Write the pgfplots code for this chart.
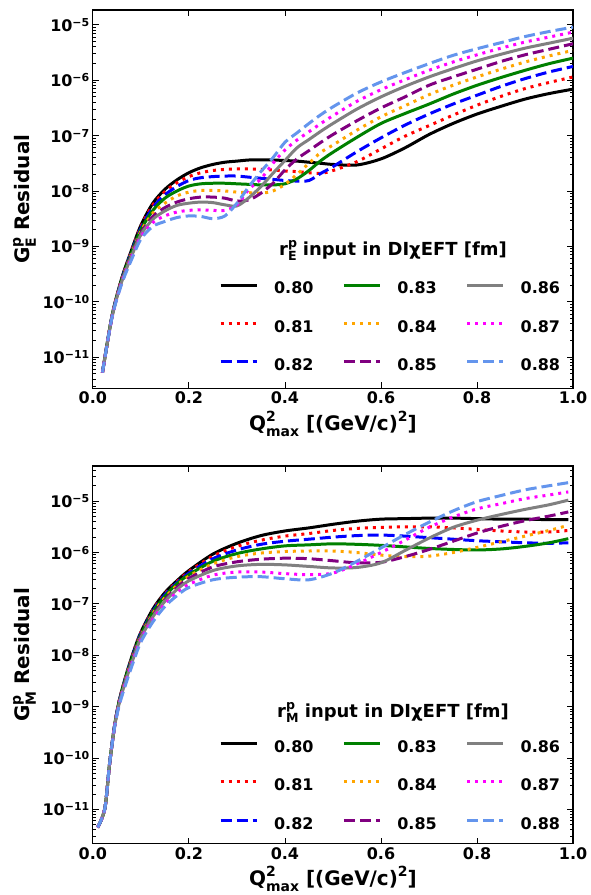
\documentclass[border=0pt]{standalone}
\usepackage{fontspec}
\setmainfont{DejaVu Sans}
\usepackage{pgfplots}
\pgfplotsset{compat=1.18}
\usepackage{pgfplotstable}

\definecolor{cgreen}{HTML}{008000}
\definecolor{corange}{HTML}{FFA500}
\definecolor{cpurple}{HTML}{800080}
\definecolor{cgray}{HTML}{808080}
\definecolor{cmagenta}{HTML}{FF00FF}
\definecolor{clblue}{HTML}{6495ED}

% #1 script size (pt), #2 superscript, #3 subscript, stacked
\newcommand{\supsub}[3]{\makebox[0pt][l]{\raisebox{0.45em}{\fontsize{#1}{#1}\selectfont #2}}\raisebox{-0.3em}{\fontsize{#1}{#1}\selectfont #3}}
\newcommand{\sps}[2]{\raisebox{0.45em}{\fontsize{#1}{#1}\selectfont #2}}
\newcommand{\tenexp}[1]{10\raisebox{5pt}{\fontsize{11}{11}\selectfont −#1}}

% log10 of the residuals
\pgfplotstableread{
x     bk     rd     bl     gr     or     pu     gy     mg     lb
0.02  -11.28 -11.28 -11.28 -11.28 -11.28 -11.28 -11.28 -11.28 -11.28
0.04  -10.25 -10.25 -10.26 -10.26 -10.26 -10.27 -10.27 -10.28 -10.28
0.06  -9.58  -9.59  -9.60  -9.61  -9.62  -9.63  -9.64  -9.66  -9.68
0.08  -9.08  -9.09  -9.11  -9.13  -9.15  -9.17  -9.19  -9.22  -9.25
0.10  -8.62  -8.64  -8.67  -8.70  -8.73  -8.76  -8.79  -8.83  -8.87
0.125 -8.22  -8.25  -8.30  -8.35  -8.40  -8.46  -8.51  -8.57  -8.64
0.15  -7.97  -8.01  -8.07  -8.13  -8.22  -8.30  -8.36  -8.45  -8.55
0.175 -7.80  -7.85  -7.92  -8.00  -8.09  -8.20  -8.26  -8.38  -8.48
0.20  -7.67  -7.74  -7.81  -7.91  -8.02  -8.14  -8.22  -8.35  -8.45
0.225 -7.58  -7.67  -7.76  -7.87  -7.99  -8.11  -8.20  -8.34  -8.46
0.25  -7.52  -7.63  -7.74  -7.86  -7.99  -8.11  -8.21  -8.35  -8.50
0.275 -7.48  -7.61  -7.73  -7.86  -8.00  -8.13  -8.25  -8.35  -8.45
0.30  -7.46  -7.60  -7.73  -7.87  -8.02  -8.18  -8.27  -8.25  -8.22
0.325 -7.44  -7.60  -7.75  -7.88  -8.03  -8.16  -8.12  -7.97  -7.92
0.35  -7.44  -7.61  -7.77  -7.89  -8.04  -8.04  -7.92  -7.78  -7.65
0.375 -7.44  -7.62  -7.79  -7.89  -8.00  -7.86  -7.68  -7.50  -7.40
0.40  -7.45  -7.64  -7.81  -7.87  -7.88  -7.62  -7.45  -7.26  -7.12
0.425 -7.46  -7.65  -7.82  -7.78  -7.70  -7.42  -7.22  -7.08  -6.95
0.45  -7.48  -7.67  -7.81  -7.63  -7.50  -7.27  -7.07  -6.93  -6.78
0.475 -7.50  -7.68  -7.68  -7.45  -7.30  -7.12  -6.92  -6.78  -6.62
0.50  -7.52  -7.63  -7.56  -7.30  -7.17  -6.98  -6.78  -6.64  -6.48
0.55  -7.53  -7.47  -7.29  -7.03  -6.90  -6.73  -6.52  -6.38  -6.23
0.60  -7.42  -7.24  -7.04  -6.78  -6.66  -6.50  -6.30  -6.17  -6.03
0.65  -7.22  -7.01  -6.81  -6.60  -6.46  -6.30  -6.11  -5.99  -5.86
0.70  -6.98  -6.82  -6.61  -6.43  -6.26  -6.09  -5.94  -5.82  -5.70
0.75  -6.78  -6.63  -6.43  -6.25  -6.09  -5.94  -5.79  -5.67  -5.55
0.80  -6.61  -6.45  -6.27  -6.09  -5.94  -5.80  -5.65  -5.54  -5.43
0.85  -6.47  -6.29  -6.11  -5.95  -5.80  -5.66  -5.53  -5.42  -5.32
0.90  -6.34  -6.15  -5.97  -5.82  -5.67  -5.54  -5.42  -5.31  -5.21
0.95  -6.24  -6.04  -5.85  -5.70  -5.56  -5.44  -5.33  -5.22  -5.12
1.00  -6.16  -5.94  -5.75  -5.60  -5.46  -5.34  -5.24  -5.13  -5.04
}\GE

\pgfplotstableread{
x     bk     rd     bl     gr     or     pu     gy     mg     lb
0.01  -11.35 -11.35 -11.35 -11.35 -11.35 -11.35 -11.35 -11.35 -11.35
0.025 -10.98 -10.98 -10.98 -10.98 -10.98 -10.98 -10.98 -10.98 -10.98
0.035 -10.10 -10.10 -10.10 -10.10 -10.10 -10.10 -10.10 -10.10 -10.10
0.045 -9.38  -9.38  -9.38  -9.39  -9.39  -9.40  -9.40  -9.41  -9.42
0.055 -8.88  -8.88  -8.89  -8.90  -8.91  -8.92  -8.93  -8.95  -8.97
0.07  -8.36  -8.37  -8.38  -8.39  -8.41  -8.43  -8.45  -8.48  -8.52
0.085 -7.92  -7.93  -7.95  -7.97  -7.99  -8.01  -8.04  -8.07  -8.11
0.10  -7.55  -7.56  -7.58  -7.60  -7.62  -7.64  -7.66  -7.70  -7.74
0.125 -7.10  -7.12  -7.14  -7.16  -7.19  -7.22  -7.25  -7.30  -7.35
0.15  -6.78  -6.80  -6.82  -6.85  -6.88  -6.92  -6.95  -7.00  -7.05
0.175 -6.55  -6.57  -6.59  -6.61  -6.64  -6.68  -6.72  -6.78  -6.84
0.20  -6.35  -6.37  -6.40  -6.43  -6.46  -6.50  -6.55  -6.62  -6.68
0.25  -6.03  -6.07  -6.12  -6.17  -6.22  -6.28  -6.35  -6.44  -6.53
0.30  -5.82  -5.88  -5.95  -6.02  -6.08  -6.18  -6.26  -6.38  -6.48
0.35  -5.67  -5.76  -5.84  -5.93  -6.01  -6.13  -6.23  -6.38  -6.47
0.40  -5.58  -5.68  -5.78  -5.87  -5.98  -6.11  -6.24  -6.41  -6.51
0.45  -5.52  -5.63  -5.74  -5.85  -5.97  -6.12  -6.27  -6.43  -6.53
0.50  -5.45  -5.57  -5.70  -5.83  -5.97  -6.16  -6.30  -6.40  -6.40
0.55  -5.39  -5.53  -5.67  -5.84  -6.00  -6.20  -6.29  -6.22  -6.17
0.60  -5.35  -5.51  -5.66  -5.86  -6.05  -6.19  -6.20  -6.00  -5.91
0.65  -5.34  -5.50  -5.68  -5.89  -6.08  -6.08  -5.96  -5.76  -5.65
0.70  -5.33  -5.50  -5.71  -5.92  -6.07  -5.94  -5.72  -5.51  -5.41
0.75  -5.33  -5.52  -5.74  -5.94  -6.00  -5.78  -5.51  -5.31  -5.19
0.80  -5.34  -5.55  -5.77  -5.95  -5.90  -5.62  -5.37  -5.15  -5.01
0.85  -5.35  -5.58  -5.79  -5.93  -5.79  -5.49  -5.26  -5.05  -4.89
0.90  -5.35  -5.60  -5.81  -5.88  -5.68  -5.38  -5.16  -4.95  -4.78
0.95  -5.36  -5.60  -5.82  -5.81  -5.57  -5.29  -5.07  -4.88  -4.70
0.99  -5.36  -5.57  -5.81  -5.73  -5.47  -5.21  -4.98  -4.82  -4.64
}\GM

\tikzset{
  dotsty/.style={dash pattern=on 3pt off 5pt},
  dashsty/.style={dash pattern=on 11pt off 5pt},
}
\pgfplotsset{
  every axis/.append style={
    scale only axis, width=481pt,
    xmin=0, xmax=1,
    xtick={0,0.2,0.4,0.6,0.8,1}, xticklabels={0.0,0.2,0.4,0.6,0.8,1.0},
    ytick={1e-11,1e-10,1e-9,1e-8,1e-7,1e-6,1e-5},
    yticklabels={\tenexp{11},\tenexp{10},\tenexp{9},\tenexp{8},\tenexp{7},\tenexp{6},\tenexp{5}},
    tick label style={font=\bfseries\fontsize{16}{18}\selectfont},
    label style={font=\bfseries\fontsize{20}{24}\selectfont},
    major tick length=6pt, minor tick length=3pt,
    tick style={line width=0.9pt, black},
    axis line style={line width=1.2pt},
    legend columns=3, transpose legend,
    legend cell align=left,
    legend style={draw=none, fill=none, anchor=center,
      font=\bfseries\fontsize{16}{18}\selectfont,
      row sep=21pt,
      /tikz/every odd column/.append style={column sep=14pt},
      /tikz/every even column/.append style={column sep=27pt}},
  },
  every axis plot/.append style={line width=3pt, smooth},
  legend image code/.code={\draw[#1] (0pt,0.37em) -- (36pt,0.37em);},
}

\begin{document}
\begin{tikzpicture}
\path (0pt,0pt) rectangle (591pt,-895pt);
\begin{semilogyaxis}[at={(93pt,-10pt)}, anchor=north west, height=379pt,
  ymin=2.72e-12, ymax=1.86e-5,
  minor ytick={3e-12,4e-12,5e-12,6e-12,7e-12,8e-12,9e-12,
    2e-11,3e-11,4e-11,5e-11,6e-11,7e-11,8e-11,9e-11,
    2e-10,3e-10,4e-10,5e-10,6e-10,7e-10,8e-10,9e-10,
    2e-9,3e-9,4e-9,5e-9,6e-9,7e-9,8e-9,9e-9,
    2e-8,3e-8,4e-8,5e-8,6e-8,7e-8,8e-8,9e-8,
    2e-7,3e-7,4e-7,5e-7,6e-7,7e-7,8e-7,9e-7,
    2e-6,3e-6,4e-6,5e-6,6e-6,7e-6,8e-6,9e-6},
  xlabel={Q\supsub{14}{2}{max} [(GeV/c)\sps{14}{2}]},
  ylabel={G\supsub{14}{p}{E} Residual},
  legend style={at={(rel axis cs:0.62,0.162)}},
]
\addplot[no markers, black] table[x=x, y expr={10^(\thisrow{bk})}] {\GE}; \addlegendentry{0.80}
\addplot[no markers, red, dotsty] table[x=x, y expr={10^(\thisrow{rd})}] {\GE}; \addlegendentry{0.81}
\addplot[no markers, blue, dashsty] table[x=x, y expr={10^(\thisrow{bl})}] {\GE}; \addlegendentry{0.82}
\addplot[no markers, cgreen] table[x=x, y expr={10^(\thisrow{gr})}] {\GE}; \addlegendentry{0.83}
\addplot[no markers, corange, dotsty] table[x=x, y expr={10^(\thisrow{or})}] {\GE}; \addlegendentry{0.84}
\addplot[no markers, cpurple, dashsty] table[x=x, y expr={10^(\thisrow{pu})}] {\GE}; \addlegendentry{0.85}
\addplot[no markers, cgray] table[x=x, y expr={10^(\thisrow{gy})}] {\GE}; \addlegendentry{0.86}
\addplot[no markers, cmagenta, dotsty] table[x=x, y expr={10^(\thisrow{mg})}] {\GE}; \addlegendentry{0.87}
\addplot[no markers, clblue, dashsty] table[x=x, y expr={10^(\thisrow{lb})}] {\GE}; \addlegendentry{0.88}
\node[font=\bfseries\fontsize{18}{20}\selectfont] at (rel axis cs:0.625,0.365) {r\supsub{12.6}{p}{E} input in DIχEFT [fm]};
\end{semilogyaxis}

\begin{semilogyaxis}[at={(93pt,-466.7pt)}, anchor=north west, height=378.3pt,
  ymin=2.16e-12, ymax=4.84e-5,
  minor ytick={3e-12,4e-12,5e-12,6e-12,7e-12,8e-12,9e-12,
    2e-11,3e-11,4e-11,5e-11,6e-11,7e-11,8e-11,9e-11,
    2e-10,3e-10,4e-10,5e-10,6e-10,7e-10,8e-10,9e-10,
    2e-9,3e-9,4e-9,5e-9,6e-9,7e-9,8e-9,9e-9,
    2e-8,3e-8,4e-8,5e-8,6e-8,7e-8,8e-8,9e-8,
    2e-7,3e-7,4e-7,5e-7,6e-7,7e-7,8e-7,9e-7,
    2e-6,3e-6,4e-6,5e-6,6e-6,7e-6,8e-6,9e-6,
    2e-5,3e-5,4e-5},
  xlabel={Q\supsub{14}{2}{max} [(GeV/c)\sps{14}{2}]},
  ylabel={G\supsub{14}{p}{M} Residual},
  legend style={at={(rel axis cs:0.62,0.154)}},
]
\addplot[no markers, black] table[x=x, y expr={10^(\thisrow{bk})}] {\GM}; \addlegendentry{0.80}
\addplot[no markers, red, dotsty] table[x=x, y expr={10^(\thisrow{rd})}] {\GM}; \addlegendentry{0.81}
\addplot[no markers, blue, dashsty] table[x=x, y expr={10^(\thisrow{bl})}] {\GM}; \addlegendentry{0.82}
\addplot[no markers, cgreen] table[x=x, y expr={10^(\thisrow{gr})}] {\GM}; \addlegendentry{0.83}
\addplot[no markers, corange, dotsty] table[x=x, y expr={10^(\thisrow{or})}] {\GM}; \addlegendentry{0.84}
\addplot[no markers, cpurple, dashsty] table[x=x, y expr={10^(\thisrow{pu})}] {\GM}; \addlegendentry{0.85}
\addplot[no markers, cgray] table[x=x, y expr={10^(\thisrow{gy})}] {\GM}; \addlegendentry{0.86}
\addplot[no markers, cmagenta, dotsty] table[x=x, y expr={10^(\thisrow{mg})}] {\GM}; \addlegendentry{0.87}
\addplot[no markers, clblue, dashsty] table[x=x, y expr={10^(\thisrow{lb})}] {\GM}; \addlegendentry{0.88}
\node[font=\bfseries\fontsize{18}{20}\selectfont] at (rel axis cs:0.625,0.348) {r\supsub{12.6}{p}{M} input in DIχEFT [fm]};
\end{semilogyaxis}
\end{tikzpicture}
\end{document}
